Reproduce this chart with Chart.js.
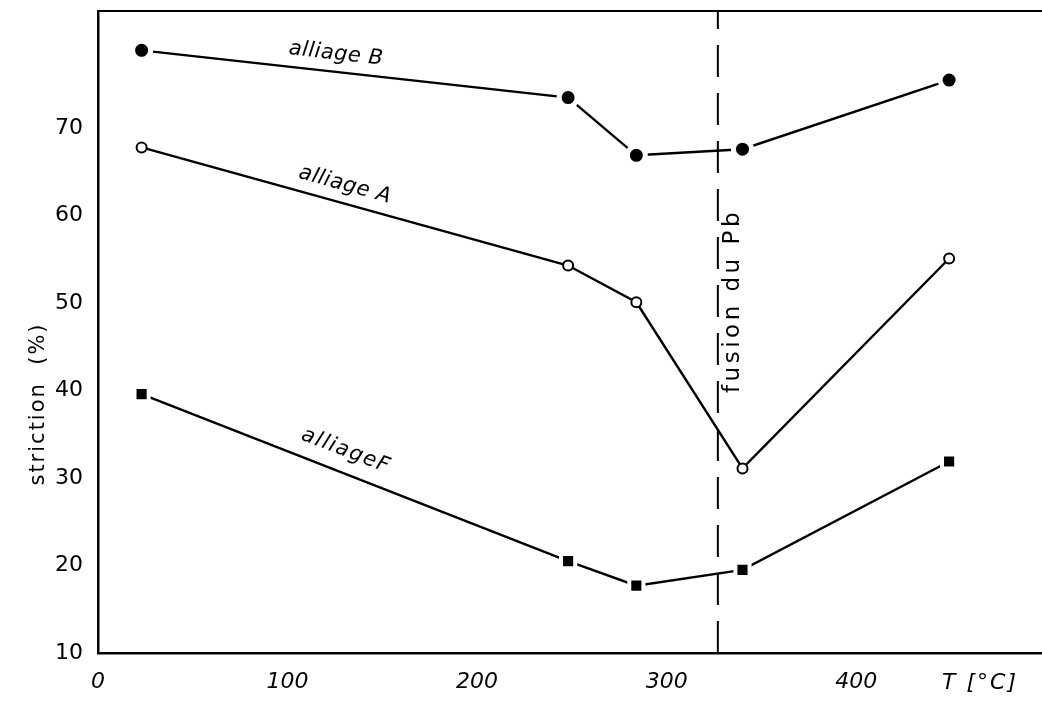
<!DOCTYPE html>
<html>
<head>
<meta charset="utf-8">
<script src="https://cdn.jsdelivr.net/npm/chart.js@4"></script>
<style>
  html, body { margin: 0; padding: 0; background: #fff; }
  #wrap { width: 1042px; height: 706px; }
</style>
</head>
<body>
<div id="wrap"><canvas id="chart"></canvas></div>
<script>
// temperatures in °C, striction in %
const temperatures = [23, 248, 284, 340, 449];
const alliageB = [78.9, 73.5, 66.9, 67.6, 75.5];
const alliageA = [67.8, 54.3, 50.1, 31.1, 55.1];
const alliageF = [39.6, 20.5, 17.7, 19.5, 31.9];
const pbMelting = 327;
const xTicks = [0, 100, 200, 300, 400];
const yTicks = [10, 20, 30, 40, 50, 60, 70];
const xRange = [0, 498];
const yRange = [10, 83.4];

const FONT = '"DejaVu Sans", sans-serif';

function toPoints(values) {
  return values.map((v, i) => ({ x: temperatures[i], y: v }));
}

function drawText(ctx, text, x, y, angle, font, spacing) {
  ctx.save();
  ctx.translate(x, y);
  ctx.rotate(angle * Math.PI / 180);
  ctx.font = font;
  ctx.letterSpacing = (spacing || 0) + 'px';
  ctx.fillStyle = '#000';
  ctx.textAlign = 'center';
  ctx.textBaseline = 'middle';
  ctx.fillText(text, 0, 0);
  ctx.restore();
}

// top frame line and the hand-placed texts of the figure
const annotations = {
  id: 'annotations',
  afterDraw(chart) {
    const ctx = chart.ctx;
    const area = chart.chartArea;
    ctx.save();
    ctx.strokeStyle = '#000';
    ctx.lineWidth = 2;
    ctx.beginPath();
    ctx.moveTo(area.left, area.top);
    ctx.lineTo(area.right, area.top);
    ctx.stroke();
    ctx.restore();

    drawText(ctx, 'alliage B', 336, 54, 6.5, 'italic 21px ' + FONT, 0.5);
    drawText(ctx, 'alliage A', 345, 185, 15.5, 'italic 21px ' + FONT, 0.5);
    drawText(ctx, 'alliageF', 346, 451, 21, 'italic 21px ' + FONT, 1.5);
    drawText(ctx, 'fusion du Pb', 733, 301, -90, '23px ' + FONT, 3.5);
    drawText(ctx, 'striction  (%)', 39, 404, -90, '21px ' + FONT, 2);
    drawText(ctx, 'T [°C]', 980, 683, 0, 'italic 22px ' + FONT, 2);
  }
};

function noPadding(scale) {
  scale.paddingTop = 0;
  scale.paddingBottom = 0;
  scale.paddingLeft = 0;
  scale.paddingRight = 0;
}

const ctx = document.getElementById('chart').getContext('2d');
new Chart(ctx, {
  type: 'line',
  data: {
    datasets: [
      {
        label: 'alliage B',
        data: toPoints(alliageB),
        borderColor: '#000',
        borderWidth: 2.4,
        pointStyle: 'circle',
        pointRadius: 9,
        pointBackgroundColor: '#000',
        pointBorderColor: '#fff',
        pointBorderWidth: 5
      },
      {
        label: 'alliage A',
        data: toPoints(alliageA),
        borderColor: '#000',
        borderWidth: 2.4,
        pointStyle: 'circle',
        pointRadius: 5,
        pointBackgroundColor: '#fff',
        pointBorderColor: '#000',
        pointBorderWidth: 2
      },
      {
        label: 'alliage F',
        data: toPoints(alliageF),
        borderColor: '#000',
        borderWidth: 2.4,
        pointStyle: 'rect',
        pointRadius: 10,
        pointBackgroundColor: '#000',
        pointBorderColor: '#fff',
        pointBorderWidth: 4
      },
      {
        label: 'fusion du Pb',
        data: [{ x: pbMelting, y: yRange[0] }, { x: pbMelting, y: yRange[1] }],
        borderColor: '#000',
        borderWidth: 2,
        borderDash: [32, 16],
        pointRadius: 0
      }
    ]
  },
  options: {
    responsive: true,
    maintainAspectRatio: false,
    animation: false,
    layout: { autoPadding: false, padding: { top: 11, right: 0, left: 0, bottom: 0 } },
    plugins: {
      legend: { display: false },
      tooltip: { enabled: false }
    },
    scales: {
      x: {
        type: 'linear',
        min: xRange[0],
        max: xRange[1],
        grid: { display: false, drawTicks: false },
        border: { display: true, color: '#000', width: 2.5 },
        ticks: {
          color: '#000',
          padding: 16,
          font: { family: FONT, size: 22, style: 'italic' }
        },
        afterBuildTicks(scale) { scale.ticks = xTicks.map(v => ({ value: v })); },
        afterFit(scale) { scale.height = 53; noPadding(scale); }
      },
      y: {
        min: yRange[0],
        max: yRange[1],
        grid: { display: false, drawTicks: false },
        border: { display: true, color: '#000', width: 2.5 },
        ticks: {
          color: '#000',
          padding: 15,
          font: { family: FONT, size: 22 }
        },
        afterBuildTicks(scale) { scale.ticks = yTicks.map(v => ({ value: v })); },
        afterFit(scale) { scale.width = 98; noPadding(scale); }
      }
    }
  },
  plugins: [annotations]
});
</script>
</body>
</html>
